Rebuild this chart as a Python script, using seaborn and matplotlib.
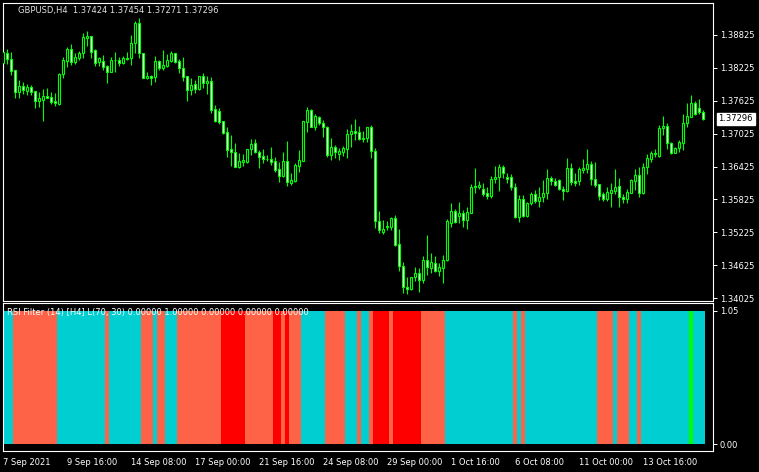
import numpy as np
import pandas as pd
import matplotlib
matplotlib.use("Agg")
import matplotlib.pyplot as plt
import seaborn as sns

# GBPUSD H4 candles (bar 0 = 7 Sep 2021 00:00)
opens = [1.38309, 1.38491, 1.38387, 1.38181, 1.37791, 1.37895, 1.37804, 1.37876, 1.37798, 1.37626,
         1.37645, 1.37713, 1.37695, 1.37621, 1.37566, 1.38108, 1.38357, 1.38569, 1.38338, 1.38411,
         1.38491, 1.38775, 1.38801, 1.38551, 1.38338, 1.38345, 1.38254, 1.38155, 1.38364, 1.38364,
         1.38320, 1.38400, 1.38400, 1.38673, 1.39038, 1.38491, 1.38035, 1.38077, 1.38064, 1.38351,
         1.38228, 1.38265, 1.38357, 1.38491, 1.38351, 1.38216, 1.38077, 1.37822, 1.37931, 1.37840,
         1.38077, 1.37953, 1.37986, 1.37469, 1.37439, 1.37257, 1.37050, 1.36745, 1.36696, 1.36423,
         1.36514, 1.36514, 1.36740, 1.36849, 1.36685, 1.36618, 1.36558, 1.36563, 1.36527, 1.36381,
         1.36259, 1.36527, 1.36131, 1.36162, 1.36441, 1.36532, 1.37233, 1.37457, 1.37152, 1.37335,
         1.37214, 1.37152, 1.36636, 1.36788, 1.36649, 1.36685, 1.36745, 1.37014, 1.37074, 1.37050,
         1.36928, 1.36952, 1.37141, 1.36715, 1.35438, 1.35237, 1.35329, 1.35329, 1.35482, 1.35008,
         1.34612, 1.34223, 1.34192, 1.34406, 1.34479, 1.34357, 1.34721, 1.34581, 1.34661, 1.34526,
         1.34570, 1.34721, 1.35402, 1.35615, 1.35529, 1.35573, 1.35451, 1.35584, 1.36047, 1.36058,
         1.36011, 1.35938, 1.35889, 1.36193, 1.36229, 1.36412, 1.36229, 1.36229, 1.36047, 1.35500,
         1.35829, 1.35524, 1.35755, 1.35925, 1.35803, 1.35865, 1.35938, 1.36211, 1.36167, 1.36180,
         1.36011, 1.35985, 1.36394, 1.36167, 1.36167, 1.36363, 1.36376, 1.36472, 1.36193, 1.36102,
         1.35925, 1.35829, 1.35949, 1.35985, 1.36071, 1.35865, 1.35829, 1.35949, 1.36167, 1.36271,
         1.35938, 1.36423, 1.36558, 1.36678, 1.36618, 1.37123, 1.37165, 1.36849, 1.36678, 1.36758,
         1.36861, 1.37214, 1.37335, 1.37590, 1.37488, 1.37424]
highs = [1.38551, 1.38569, 1.38520, 1.38186, 1.38004, 1.37973, 1.37926, 1.37913, 1.37804, 1.37780,
         1.37840, 1.37854, 1.37780, 1.37762, 1.38132, 1.38424, 1.38606, 1.38655, 1.38491, 1.38533,
         1.38867, 1.38903, 1.38806, 1.38569, 1.38429, 1.38459, 1.38278, 1.38424, 1.38509, 1.38424,
         1.38436, 1.38509, 1.38825, 1.39080, 1.39129, 1.38496, 1.38144, 1.38095, 1.38442, 1.38369,
         1.38551, 1.38478, 1.38533, 1.38502, 1.38387, 1.38429, 1.38083, 1.38035, 1.38004, 1.38083,
         1.38126, 1.38077, 1.38064, 1.37548, 1.37499, 1.37262, 1.37141, 1.37001, 1.36861, 1.36667,
         1.36649, 1.36751, 1.36928, 1.36928, 1.36727, 1.36740, 1.36636, 1.36788, 1.36600, 1.36514,
         1.36696, 1.36892, 1.36302, 1.36485, 1.36727, 1.37262, 1.37506, 1.37475, 1.37378, 1.37353,
         1.37275, 1.37171, 1.36950, 1.36819, 1.36758, 1.36806, 1.37110, 1.37196, 1.37293, 1.37165,
         1.37080, 1.37147, 1.37184, 1.36758, 1.35615, 1.35451, 1.35433, 1.35500, 1.35542, 1.35287,
         1.34679, 1.34417, 1.34417, 1.34599, 1.34570, 1.34800, 1.35177, 1.34844, 1.34800, 1.34661,
         1.34813, 1.35469, 1.35766, 1.35652, 1.35774, 1.35633, 1.35683, 1.36107, 1.36394, 1.36167,
         1.36120, 1.36058, 1.36253, 1.36436, 1.36472, 1.36454, 1.36302, 1.36290, 1.36131, 1.35907,
         1.35907, 1.35785, 1.35967, 1.35998, 1.36058, 1.36180, 1.36376, 1.36253, 1.36222, 1.36193,
         1.36071, 1.36576, 1.36496, 1.36302, 1.36423, 1.36558, 1.36740, 1.36532, 1.36514, 1.36107,
         1.35967, 1.36047, 1.36120, 1.36376, 1.36211, 1.35925, 1.36011, 1.36193, 1.36376, 1.36423,
         1.36496, 1.36655, 1.36715, 1.36740, 1.37184, 1.37348, 1.37214, 1.36879, 1.36788, 1.36910,
         1.37384, 1.37579, 1.37731, 1.37626, 1.37652, 1.37454]
lows = [1.38229, 1.38302, 1.38095, 1.37671, 1.37682, 1.37744, 1.37731, 1.37731, 1.37499, 1.37517,
        1.37257, 1.37671, 1.37561, 1.37535, 1.37548, 1.38040, 1.38247, 1.38278, 1.38291, 1.38369,
        1.38400, 1.38630, 1.38411, 1.38260, 1.38265, 1.38191, 1.37949, 1.38144, 1.38144, 1.38257,
        1.38301, 1.38369, 1.38278, 1.38491, 1.38400, 1.38035, 1.38022, 1.37913, 1.37973, 1.38186,
        1.38186, 1.38247, 1.38338, 1.38320, 1.38126, 1.37986, 1.37621, 1.37731, 1.37762, 1.37822,
        1.37853, 1.37744, 1.37408, 1.37244, 1.37201, 1.37014, 1.36605, 1.36441, 1.36417, 1.36394,
        1.36441, 1.36485, 1.36636, 1.36667, 1.36405, 1.36485, 1.36527, 1.36454, 1.36321, 1.36138,
        1.36241, 1.36076, 1.36089, 1.36138, 1.36332, 1.36527, 1.37050, 1.37141, 1.37092, 1.37184,
        1.36970, 1.36605, 1.36545, 1.36587, 1.36545, 1.36624, 1.36576, 1.36788, 1.36910, 1.36910,
        1.36879, 1.36868, 1.36587, 1.35300, 1.35219, 1.35195, 1.35268, 1.35268, 1.34977, 1.34526,
        1.34114, 1.34101, 1.34174, 1.34344, 1.34143, 1.34307, 1.34448, 1.34479, 1.34508, 1.34435,
        1.34307, 1.34709, 1.35318, 1.35391, 1.35391, 1.35329, 1.35287, 1.35573, 1.35938, 1.36011,
        1.35889, 1.35829, 1.35847, 1.36120, 1.35985, 1.36211, 1.36120, 1.35998, 1.35493, 1.35420,
        1.35500, 1.35511, 1.35724, 1.35755, 1.35693, 1.35785, 1.35829, 1.36089, 1.36071, 1.35998,
        1.35816, 1.35967, 1.36089, 1.36071, 1.36089, 1.36302, 1.36302, 1.36089, 1.36058, 1.35816,
        1.35803, 1.35803, 1.35683, 1.35925, 1.35683, 1.35755, 1.35755, 1.35938, 1.35998, 1.35865,
        1.35925, 1.36290, 1.36514, 1.36594, 1.36605, 1.37001, 1.36740, 1.36655, 1.36667, 1.36696,
        1.36727, 1.37152, 1.37324, 1.37366, 1.37384, 1.37271]
closes = [1.38509, 1.38381, 1.38173, 1.37791, 1.37895, 1.37817, 1.37876, 1.37785, 1.37626, 1.37676,
          1.37713, 1.37682, 1.37603, 1.37578, 1.38114, 1.38364, 1.38569, 1.38338, 1.38424, 1.38491,
          1.38788, 1.38801, 1.38520, 1.38309, 1.38400, 1.38241, 1.38155, 1.38364, 1.38374, 1.38305,
          1.38400, 1.38392, 1.38679, 1.39038, 1.38491, 1.38046, 1.38077, 1.38035, 1.38351, 1.38228,
          1.38278, 1.38369, 1.38491, 1.38338, 1.38216, 1.38064, 1.37822, 1.37913, 1.37840, 1.38077,
          1.37953, 1.37986, 1.37457, 1.37262, 1.37244, 1.37043, 1.36727, 1.36696, 1.36423, 1.36532,
          1.36545, 1.36745, 1.36831, 1.36685, 1.36605, 1.36558, 1.36563, 1.36514, 1.36363, 1.36259,
          1.36527, 1.36138, 1.36180, 1.36454, 1.36545, 1.37257, 1.37457, 1.37152, 1.37353, 1.37214,
          1.37152, 1.36636, 1.36788, 1.36685, 1.36709, 1.36770, 1.37014, 1.37074, 1.37043, 1.36923,
          1.36952, 1.37141, 1.36715, 1.35438, 1.35268, 1.35287, 1.35347, 1.35482, 1.34995, 1.34617,
          1.34223, 1.34192, 1.34406, 1.34479, 1.34357, 1.34721, 1.34600, 1.34679, 1.34526, 1.34588,
          1.34721, 1.35433, 1.35615, 1.35409, 1.35573, 1.35451, 1.35591, 1.36047, 1.36071, 1.36089,
          1.35925, 1.35889, 1.36193, 1.36229, 1.36412, 1.36314, 1.36193, 1.36047, 1.35500, 1.35829,
          1.35524, 1.35766, 1.35920, 1.35803, 1.35865, 1.35938, 1.36211, 1.36167, 1.36089, 1.36011,
          1.35985, 1.36394, 1.36149, 1.36120, 1.36376, 1.36394, 1.36472, 1.36193, 1.36089, 1.35889,
          1.35829, 1.35967, 1.35998, 1.36058, 1.35865, 1.35829, 1.35967, 1.36180, 1.36271, 1.35938,
          1.36412, 1.36576, 1.36678, 1.36655, 1.37123, 1.37165, 1.36849, 1.36678, 1.36758, 1.36879,
          1.37225, 1.37348, 1.37579, 1.37384, 1.37426, 1.37296]

# RSI filter state per bar, run-length encoded
rsi_states = ["bull", "bear", "bull", "bear", "bull", "bear", "bull", "bear", "bull", "bear",
              "oversold", "bear", "oversold", "bear", "oversold", "bear", "bull", "bear", "bull", "bear",
              "bull", "bear", "oversold", "bear", "oversold", "bear", "bull", "bear", "bull", "bear",
              "bull", "bear", "bull", "bear", "bull", "bear", "bull", "overbought", "bull"]
rsi_runs = [3, 11, 12, 1, 8, 3, 1, 2, 3, 11,
            6, 7, 2, 1, 1, 3, 6, 5, 3, 1,
            2, 1, 4, 1, 7, 6, 17, 1, 1, 1,
            18, 4, 1, 3, 2, 1, 12, 1, 3]

price_ticks = [1.38825, 1.38225, 1.37625, 1.37025, 1.36425, 1.35825, 1.35225, 1.34625, 1.34025]
date_ticks = [0, 16, 32, 48, 64, 80, 96, 112, 128, 144, 160]
date_labels = ["7 Sep 2021", "9 Sep 16:00", "14 Sep 08:00", "17 Sep 00:00", "21 Sep 16:00",
               "24 Sep 08:00", "29 Sep 00:00", "1 Oct 16:00", "6 Oct 08:00", "11 Oct 00:00",
               "13 Oct 16:00"]

palette = {"bull": "#00CED1", "bear": "#FF6347", "oversold": "#FF0000", "overbought": "#00FF00"}

sns.set_theme(style="dark", rc={"axes.facecolor": "black", "figure.facecolor": "black"})
plt.rcParams["font.family"] = ["DejaVu Sans"]

W, H = 759, 472
fig = plt.figure(figsize=(W / 100, H / 100), dpi=100)
ax = fig.add_axes([3 / W, 1 - 301 / H, 710 / W, 298 / H])
ax2 = fig.add_axes([3 / W, 1 - 451 / H, 710 / W, 148 / H])

o = np.array(opens)
c = np.array(closes)
x = np.arange(len(o))
lime = "#00FF00"

# === candles: wicks, then bodies (bull hollow, bear filled)
ax.vlines(x, lows, highs, color=lime, linewidth=0.8, zorder=2)
body_lo = np.minimum(o, c)
body_h = np.abs(c - o)
face = np.where(c >= o, "black", "white")
ax.bar(x, body_h, bottom=body_lo, width=0.5, color=face, edgecolor=lime, linewidth=0.8, zorder=3)

ax.set_xlim(0, 177.5)
ax.set_ylim(1.33974, 1.39408)
ax.set_xticks([])
ax.yaxis.tick_right()
ax.set_yticks(price_ticks, [f"{p:.5f}" for p in price_ticks])
ax.tick_params(axis="y", colors="white", labelcolor="white", direction="out",
               length=3, width=0.7, labelsize=6, pad=2)
ax.annotate(f"{closes[-1]:.5f}", xy=(1, closes[-1]), xycoords=("axes fraction", "data"),
            xytext=(4, 0), textcoords="offset points", ha="left", va="center",
            fontsize=6, color="black",
            bbox=dict(boxstyle="square,pad=0.2", fc="white", ec="white"))
ax.text(15 / 710, 1 - 7 / 298,
        f"GBPUSD,H4  {opens[-1]:.5f} {highs[-1]:.5f} {lows[-1]:.5f} {closes[-1]:.5f}",
        transform=ax.transAxes, fontsize=6, color="#e0e0e0", va="center", ha="left")

# === RSI filter histogram
state_col = np.repeat(rsi_states, rsi_runs)
df = pd.DataFrame({"bar": x, "value": 1.05, "state": state_col})
sns.barplot(data=df, x="bar", y="value", hue="state", palette=palette,
            hue_order=list(palette), dodge=False, width=1.0, native_scale=True,
            legend=False, linewidth=0, saturation=1, antialiased=False, ax=ax2)
ax2.set_xlim(0, 177.5)
ax2.set_ylim(-0.055, 1.113)
ax2.set_xlabel("")
ax2.set_ylabel("")
ax2.yaxis.tick_right()
ax2.set_yticks([0, 1.05], ["0.00", "1.05"])
ax2.set_xticks(date_ticks, date_labels)
for lbl in ax2.get_xticklabels():
    lbl.set_ha("left")
ax2.tick_params(axis="both", colors="white", labelcolor="white", direction="out",
                length=3, width=0.7, labelsize=6, pad=2)
ax2.text(4 / 710, 1 - 10 / 148,
         "RSI Filter (14) [H4] L(70, 30) 0.00000 1.00000 0.00000 0.00000 0.00000",
         transform=ax2.transAxes, fontsize=6, color="white", va="center", ha="left")

for a in (ax, ax2):
    a.grid(False)
    for s in a.spines.values():
        s.set_color("white")
        s.set_linewidth(0.8)
        s.set_visible(True)

fig.savefig("out.png", dpi=100, facecolor="black")
